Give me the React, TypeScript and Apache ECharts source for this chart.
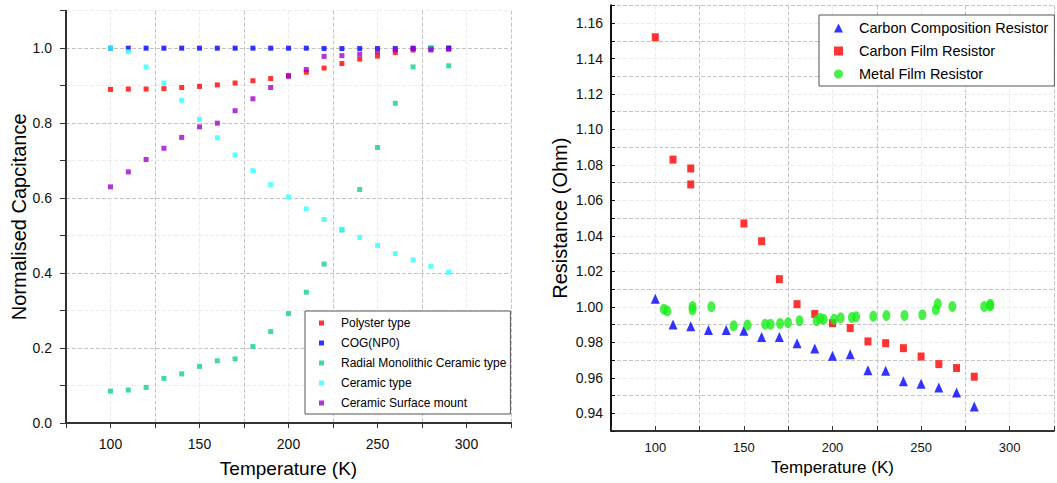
import React, { useEffect, useRef } from "react";
import * as echarts from "echarts";

// ---------- Left chart data ----------
const tempsLeft = [100, 110, 120, 130, 140, 150, 160, 170, 180, 190, 200, 210, 220, 230, 240, 250, 260, 270, 280, 290];
const polysterType = [0.890, 0.891, 0.891, 0.892, 0.895, 0.898, 0.902, 0.907, 0.913, 0.919, 0.927, 0.936, 0.947, 0.959, 0.971, 0.979, 0.988, 0.995, 0.998, 1.0];
const cogNp0 = [1.0, 1.0, 1.0, 1.0, 1.0, 1.0, 1.0, 1.0, 1.0, 1.0, 1.0, 1.0, 0.999, 0.999, 0.999, 0.999, 0.999, 1.0, 1.0, 1.0];
const radialMonolithic = [0.085, 0.088, 0.095, 0.119, 0.131, 0.151, 0.166, 0.171, 0.204, 0.244, 0.292, 0.349, 0.424, 0.515, 0.623, 0.735, 0.853, 0.950, 1.0, 0.953];
const ceramicType = [1.0, 0.991, 0.950, 0.907, 0.861, 0.810, 0.761, 0.715, 0.673, 0.636, 0.603, 0.571, 0.543, 0.517, 0.495, 0.474, 0.452, 0.435, 0.418, 0.402];
const ceramicSurfaceMount = [0.630, 0.670, 0.703, 0.733, 0.762, 0.790, 0.800, 0.833, 0.865, 0.895, 0.925, 0.943, 0.978, 0.980, 0.984, 0.991, 0.995, 0.999, 0.995, 0.997];

// ---------- Right chart data ----------
const carbonCompTemps = [100, 110, 120, 130, 140, 150, 160, 170, 180, 190, 200, 210, 220, 230, 240, 250, 260, 270, 280];
const carbonCompRes = [1.0045, 0.990, 0.989, 0.987, 0.987, 0.9865, 0.983, 0.983, 0.9795, 0.9765, 0.9724, 0.9733, 0.9643, 0.964, 0.958, 0.9566, 0.9545, 0.9517, 0.9438];
const carbonFilmTemps = [100, 110, 120, 120, 150, 160, 170, 180, 190, 200, 210, 220, 230, 240, 250, 260, 270, 280];
const carbonFilmRes = [1.152, 1.083, 1.078, 1.069, 1.047, 1.037, 1.0156, 1.0015, 0.996, 0.9908, 0.988, 0.9805, 0.9795, 0.9767, 0.972, 0.9677, 0.9655, 0.9606];
const metalFilmTemps = [104.8, 106.7, 121, 121, 131.6, 144.2, 152, 162, 165, 170.4, 174.9, 181.4, 191, 193, 195, 200.9, 204.6, 210.9, 213.3, 223, 230.4, 240.6, 250.7, 258.3, 259.4, 267.6, 285.6, 289, 289];
const metalFilmRes = [0.9987, 0.9977, 1.0002, 0.9983, 1.0, 0.9893, 0.9897, 0.9902, 0.9902, 0.9906, 0.991, 0.9921, 0.9921, 0.9935, 0.993, 0.993, 0.9938, 0.994, 0.9944, 0.9947, 0.9951, 0.9951, 0.9955, 0.9983, 1.0017, 1.0002, 1.0002, 1.0015, 1.0005];

const leftNames = ["Polyster type", "COG(NP0)", "Radial Monolithic Ceramic type", "Ceramic type", "Ceramic Surface mount"];
const rightNames = ["Carbon Composition Resistor", "Carbon Film Resistor", "Metal Film Resistor"];

const pairs = (xs: number[], ys: number[]) => xs.map((x, i) => [x, ys[i]]);

const FONT = "Liberation Sans, Arial, sans-serif";
const MAJOR = "#c4c4c4";
const MINOR = "#ececec";

export default function App() {
  const ref = useRef<HTMLDivElement>(null);
  useEffect(() => {
    if (!ref.current) return;
    const chart = echarts.init(ref.current, null, { renderer: "svg" });
    const leftSeries = [
      { name: leftNames[0], color: "#ff0000", data: pairs(tempsLeft, polysterType) },
      { name: leftNames[1], color: "#0000ff", data: pairs(tempsLeft, cogNp0) },
      { name: leftNames[2], color: "#12d18e", data: pairs(tempsLeft, radialMonolithic) },
      { name: leftNames[3], color: "#33ffff", data: pairs(tempsLeft, ceramicType) },
      { name: leftNames[4], color: "#a000d4", data: pairs(tempsLeft, ceramicSurfaceMount) },
    ].map((s) => ({
      type: "scatter",
      name: s.name,
      xAxisIndex: 0,
      yAxisIndex: 0,
      symbol: "rect",
      symbolSize: 5,
      itemStyle: { color: s.color },
      data: s.data,
    }));
    const rightSeries = [
      { name: rightNames[0], color: "#0000ff", symbol: "triangle", size: [9, 10], data: pairs(carbonCompTemps, carbonCompRes) },
      { name: rightNames[1], color: "#ff0000", symbol: "rect", size: [7, 8], data: pairs(carbonFilmTemps, carbonFilmRes) },
      { name: rightNames[2], color: "#1aee1a", symbol: "circle", size: [8, 11], data: pairs(metalFilmTemps, metalFilmRes) },
    ].map((s) => ({
      type: "scatter",
      name: s.name,
      xAxisIndex: 1,
      yAxisIndex: 1,
      symbol: s.symbol,
      symbolSize: s.size,
      itemStyle: { color: s.color },
      data: s.data,
    }));

    const xAxisBase = (gridIndex: number, inside: boolean, labelSize: number, nameSize: number, nameGap: number, margin: number) => ({
      type: "value",
      gridIndex,
      min: 75,
      max: 325,
      interval: 25,
      name: "Temperature (K)",
      nameLocation: "middle",
      nameGap,
      nameTextStyle: { fontFamily: FONT, fontSize: nameSize, color: "#000" },
      axisLine: { show: true, onZero: false, lineStyle: { color: "#333", width: 2 } },
      axisTick: { show: true, inside, length: 5, lineStyle: { color: "#333", width: 1 } },
      axisLabel: {
        fontFamily: FONT,
        fontSize: labelSize,
        color: "#111",
        margin,
        formatter: (v: number) => (Math.round(v) % 50 === 0 ? String(Math.round(v)) : ""),
      },
      splitLine: { show: true, lineStyle: { color: [MAJOR, MINOR], type: "dashed", width: 1 } },
    });

    chart.setOption({
      animation: false,
      backgroundColor: "#ffffff",
      grid: [
        { left: 66, top: 10.7, width: 445, height: 413.3, containLabel: false },
        { left: 611, top: 5.3, width: 449, height: 425.7, containLabel: false },
      ],
      xAxis: [
        xAxisBase(0, false, 14, 19, 36, 14),
        xAxisBase(1, true, 13, 17, 28, 10),
      ],
      yAxis: [
        {
          type: "value",
          gridIndex: 0,
          min: 0,
          max: 1.1,
          interval: 0.1,
          name: "Normalised Capcitance",
          nameLocation: "middle",
          nameGap: 36,
          nameTextStyle: { fontFamily: FONT, fontSize: 20, color: "#000" },
          axisLine: { show: true, onZero: false, lineStyle: { color: "#333", width: 2 } },
          axisTick: { show: true, inside: false, length: 6, lineStyle: { color: "#333" } },
          axisLabel: {
            fontFamily: FONT,
            fontSize: 14,
            color: "#111",
            margin: 14,
            formatter: (v: number) => (Math.round(v * 10) % 2 === 0 ? v.toFixed(1) : ""),
          },
          splitLine: { show: true, lineStyle: { color: [MAJOR, MINOR], type: "dashed" } },
        },
        {
          type: "value",
          gridIndex: 1,
          min: 0.93,
          max: 1.17,
          interval: 0.01,
          name: "Resistance (Ohm)",
          nameLocation: "middle",
          nameGap: 41,
          nameTextStyle: { fontFamily: FONT, fontSize: 20, color: "#000" },
          axisLine: { show: true, onZero: false, lineStyle: { color: "#111", width: 2 } },
          axisTick: { show: true, inside: true, length: 4, lineStyle: { color: "#111" } },
          axisLabel: {
            fontFamily: FONT,
            fontSize: 14,
            color: "#111",
            margin: 8,
            formatter: (v: number) => (Math.round(v * 100) % 2 === 0 ? v.toFixed(2) : ""),
          },
          splitLine: { show: true, lineStyle: { color: [MAJOR, MINOR], type: "dashed" } },
        },
      ],
      legend: [
        {
          data: leftNames,
          orient: "vertical",
          left: 305,
          top: 311,
          padding: [5, 4, 4, 14],
          itemGap: 6,
          itemWidth: 5,
          itemHeight: 5,
          borderColor: "#555",
          borderWidth: 1,
          backgroundColor: "#fff",
          textStyle: { fontFamily: FONT, fontSize: 12, color: "#000", lineHeight: 14, padding: [0, 0, 0, 12] },
        },
        {
          data: rightNames,
          orient: "vertical",
          left: 819,
          top: 15,
          padding: [4, 6, 3, 15],
          itemGap: 5,
          itemWidth: 9,
          itemHeight: 9,
          borderColor: "#555",
          borderWidth: 1,
          backgroundColor: "#fff",
          textStyle: { fontFamily: FONT, fontSize: 14.5, color: "#000", lineHeight: 18, padding: [0, 0, 0, 11] },
        },
      ],
      series: [...leftSeries, ...rightSeries],
    });
    return () => chart.dispose();
  }, []);
  return <div ref={ref} style={{ position: "absolute", left: 0, top: 0, width: 1057, height: 483 }} />;
}
